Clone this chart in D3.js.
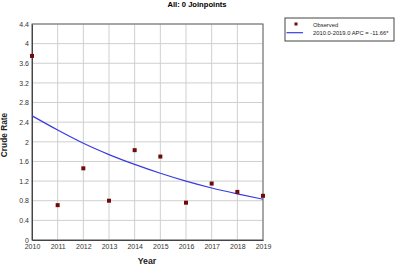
<!DOCTYPE html>
<html>
<head>
<meta charset="utf-8">
<script src="https://cdn.jsdelivr.net/npm/d3@7"></script>
<style>
  body { margin: 0; background: #fff; }
  svg { display: block; font-family: "Liberation Sans", Arial, sans-serif; }
</style>
</head>
<body>
<div id="chart"></div>
<script>
const years = [2010, 2011, 2012, 2013, 2014, 2015, 2016, 2017, 2018, 2019];
const observed = [3.75, 0.71, 1.46, 0.80, 1.83, 1.70, 0.76, 1.15, 0.98, 0.90];
const modeled = [2.53, 2.24, 1.97, 1.74, 1.54, 1.36, 1.20, 1.06, 0.94, 0.83];
const yTicks = [0, 0.4, 0.8, 1.2, 1.6, 2, 2.4, 2.8, 3.2, 3.6, 4, 4.4];
const title = "All: 0 Joinpoints";
const legendLabels = ["Observed", "2010.0-2019.0 APC  = -11.66*"];

const width = 400, height = 266;
const margin = { top: 24, left: 32, bottom: 26, right: 137 };
const fontFamily = "'Liberation Sans', Arial, sans-serif";

const svg = d3.select("#chart").append("svg")
    .attr("width", width)
    .attr("height", height);

const x = d3.scaleLinear()
    .domain([2010, 2019])
    .range([margin.left, width - margin.right]);

const y = d3.scaleLinear()
    .domain([0, 4.4])
    .range([height - margin.bottom, margin.top]);

// grid
svg.append("g")
    .selectAll("line")
    .data(years)
    .join("line")
    .attr("x1", d => x(d)).attr("x2", d => x(d))
    .attr("y1", y(0)).attr("y2", y(4.4))
    .attr("stroke", "#cfcfcf");

svg.append("g")
    .selectAll("line")
    .data(yTicks)
    .join("line")
    .attr("x1", x(2010)).attr("x2", x(2019))
    .attr("y1", d => y(d)).attr("y2", d => y(d))
    .attr("stroke", "#cfcfcf");

// frame
svg.append("rect")
    .attr("x", x(2010)).attr("y", y(4.4))
    .attr("width", x(2019) - x(2010))
    .attr("height", y(0) - y(4.4))
    .attr("fill", "none")
    .attr("stroke", "#666");

svg.append("g")
    .attr("transform", `translate(0,${y(0)})`)
    .call(d3.axisBottom(x).tickValues(years).tickFormat(d3.format("d")).tickSize(0).tickPadding(4))
    .call(g => g.select(".domain").attr("stroke", "#444"))
    .call(g => g.selectAll("text").attr("font-size", "7px").attr("fill", "#333")
        .attr("font-family", fontFamily));

svg.append("g")
    .attr("transform", `translate(${x(2010)},0)`)
    .call(d3.axisLeft(y).tickValues(yTicks).tickFormat(d => d).tickSize(0).tickPadding(3))
    .call(g => g.select(".domain").attr("stroke", "#444"))
    .call(g => g.selectAll("text").attr("font-size", "7px").attr("fill", "#333")
        .attr("font-family", fontFamily));

// fitted line
svg.append("path")
    .datum(years.map((d, i) => [d, modeled[i]]))
    .attr("fill", "none")
    .attr("stroke", "#3a3ae0")
    .attr("stroke-width", 1.2)
    .attr("d", d3.line().x(d => x(d[0])).y(d => y(d[1])).curve(d3.curveMonotoneX));

// observed points
svg.append("g")
    .selectAll("rect")
    .data(years.map((d, i) => [d, observed[i]]))
    .join("rect")
    .attr("x", d => x(d[0]) - 2)
    .attr("y", d => y(d[1]) - 2)
    .attr("width", 4).attr("height", 4)
    .attr("fill", "#6e0b0b");

// title and axis labels
svg.append("text")
    .attr("x", 197).attr("y", 7)
    .attr("text-anchor", "middle")
    .attr("font-size", "7.6px").attr("font-weight", "bold")
    .text(title);

svg.append("text")
    .attr("x", 147).attr("y", 264)
    .attr("text-anchor", "middle")
    .attr("font-size", "8.8px").attr("font-weight", "bold")
    .attr("fill", "#222")
    .text("Year");

svg.append("text")
    .attr("transform", "rotate(-90)")
    .attr("x", -135).attr("y", 7)
    .attr("text-anchor", "middle")
    .attr("font-size", "8.3px").attr("font-weight", "bold")
    .attr("fill", "#222")
    .text("Crude Rate");

// legend
const lg = svg.append("g").attr("transform", "translate(285,18)");
lg.append("rect")
    .attr("width", 109).attr("height", 23)
    .attr("fill", "#fff").attr("stroke", "#444");
lg.append("rect")
    .attr("x", 9.5).attr("y", 4.5).attr("width", 3).attr("height", 3)
    .attr("fill", "#6e0b0b");
lg.append("line")
    .attr("x1", 1.5).attr("x2", 18).attr("y1", 14.7).attr("y2", 14.7)
    .attr("stroke", "#3a3ae0").attr("stroke-width", 1.2);
lg.selectAll("text")
    .data(legendLabels)
    .join("text")
    .attr("x", 28).attr("y", (d, i) => 9 + i * 7.5)
    .attr("font-size", "5.8px").attr("fill", "#222")
    .text(d => d);
</script>
</body>
</html>
